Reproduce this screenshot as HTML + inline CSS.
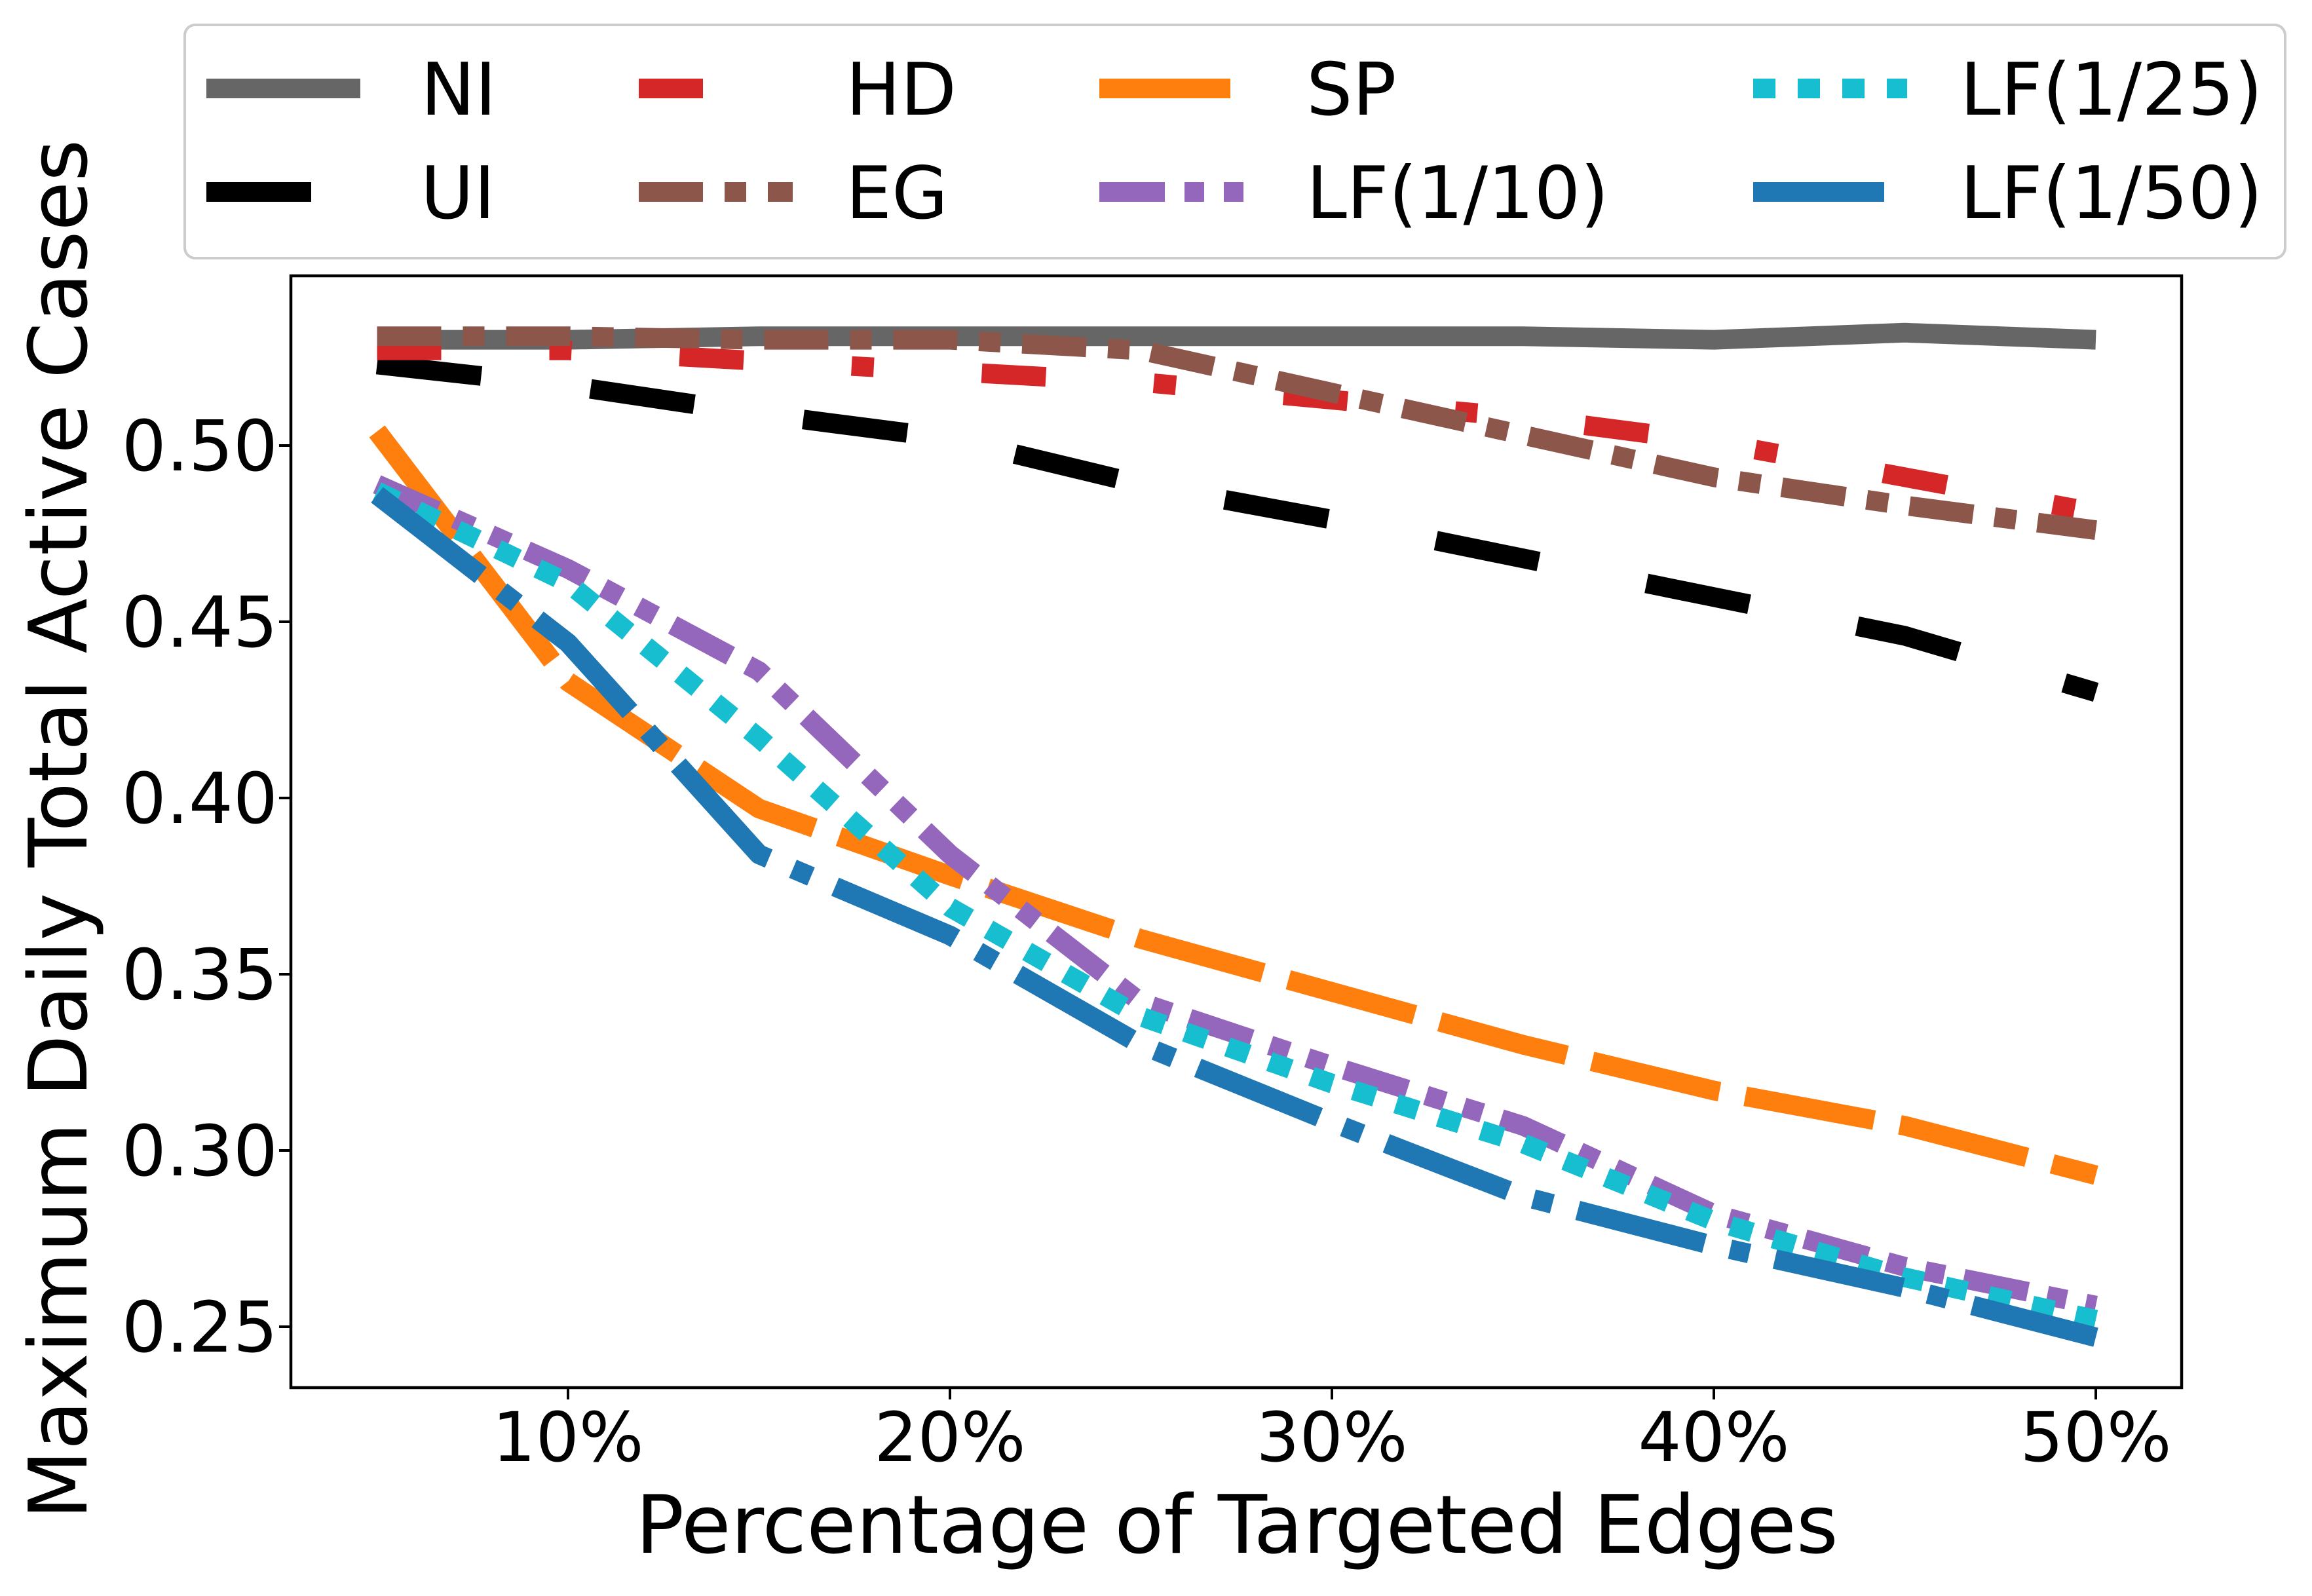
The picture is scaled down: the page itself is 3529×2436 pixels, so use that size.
<!DOCTYPE html>
<html><head><meta charset="utf-8"><style>
html,body{margin:0;padding:0;background:#fff;}
svg{display:block;font-family:"DejaVu Sans","Liberation Sans",sans-serif;}
</style></head><body>
<svg id="chart" width="3529" height="2436" viewBox="0 0 3529 2436" xmlns="http://www.w3.org/2000/svg">
<rect x="0" y="0" width="3529" height="2436" fill="#fff"/>
<g id="plot"></g>
<rect x="444" y="421" width="2886" height="1697" fill="none" stroke="#000" stroke-width="4.5"/>
<g id="ticks"></g>
<text x="1888" y="2370" font-size="123" text-anchor="middle">Percentage of Targeted Edges</text>
<text transform="translate(132,1266) rotate(-90)" font-size="123" text-anchor="middle">Maximum Daily Total Active Cases</text>
<g id="legend">
<rect x="282" y="38" width="3206" height="356" rx="16" fill="#fff" stroke="#ccc" stroke-width="4"/>
</g>
</svg>
<script>
const categories = [5,10,15,20,25,30,35,40,45,50];
const seriesNames = ["NI","UI","HD","EG","SP","LF(1/10)","LF(1/25)","LF(1/50)"];
const valsNI = [0.530,0.530,0.531,0.531,0.531,0.531,0.531,0.530,0.532,0.530];
const valsUI = [0.523,0.517,0.509,0.502,0.489,0.479,0.468,0.457,0.446,0.430];
const valsHD = [0.527,0.527,0.524,0.521,0.518,0.513,0.508,0.501,0.491,0.481];
const valsEG = [0.531,0.531,0.530,0.530,0.527,0.515,0.503,0.491,0.483,0.476];
const valsSP = [0.504,0.433,0.397,0.378,0.360,0.345,0.330,0.317,0.307,0.293];
const valsLF10 = [0.489,0.465,0.436,0.384,0.342,0.324,0.307,0.282,0.267,0.256];
const valsLF25 = [0.487,0.461,0.417,0.369,0.338,0.319,0.302,0.280,0.264,0.252];
const valsLF50 = [0.486,0.444,0.384,0.361,0.330,0.308,0.287,0.273,0.261,0.247];
const xTicks = [10,20,30,40,50];
const xTickLabels = ["10%","20%","30%","40%","50%"];
const yTicks = [0.25,0.30,0.35,0.40,0.45,0.50];
const yTickLabels = ["0.25","0.30","0.35","0.40","0.45","0.50"];

const NS="http://www.w3.org/2000/svg";
function xs(p){return 867+(p-10)*58.3;}
function ys(v){return 680+(0.50-v)*5380;}
const styles=[
 {vals:valsNI,color:"#666666",dash:"none",key:"ni"},
 {vals:valsUI,color:"#000000",dash:"160 168",key:"ui"},
 {vals:valsHD,color:"#d62728",dash:"98 165 34 165",key:"hd"},
 {vals:valsEG,color:"#8c564b",dash:"98 33 33 33",key:"eg"},
 {vals:valsSP,color:"#ff7f0e",dash:"200 40",key:"sp"},
 {vals:valsLF10,color:"#9467bd",dash:"100 30 30 30 30 30",key:"lf10"},
 {vals:valsLF25,color:"#17becf",dash:"34 34",key:"lf25"},
 {vals:valsLF50,color:"#1f77b4",dash:"200 40 30 40",key:"lf50"}
];
const plot=document.getElementById("plot");
styles.forEach((s,i)=>{
  const p=document.createElementNS(NS,"path");
  let d="";
  categories.forEach((c,j)=>{d+=(j?"L":"M")+xs(c).toFixed(1)+" "+ys(s.vals[j]).toFixed(1);});
  p.setAttribute("d",d);
  p.setAttribute("fill","none");
  p.setAttribute("stroke",s.color);
  p.setAttribute("stroke-width","30");
  p.setAttribute("stroke-linejoin","round");
  if(s.dash!=="none")p.setAttribute("stroke-dasharray",s.dash);
  
  
  plot.appendChild(p);
});
const ticks=document.getElementById("ticks");
xTicks.forEach((t,i)=>{
  const l=document.createElementNS(NS,"line");
  l.setAttribute("x1",xs(t));l.setAttribute("x2",xs(t));
  l.setAttribute("y1",2118);l.setAttribute("y2",2136);
  l.setAttribute("stroke","#000");l.setAttribute("stroke-width","4");
  
  
  ticks.appendChild(l);
  const tx=document.createElementNS(NS,"text");
  tx.setAttribute("x",xs(t));tx.setAttribute("y",2230);
  tx.setAttribute("font-size","104");tx.setAttribute("text-anchor","middle");
  tx.textContent=xTickLabels[i];
  
  
  ticks.appendChild(tx);
});
yTicks.forEach((t,i)=>{
  const l=document.createElementNS(NS,"line");
  l.setAttribute("x1",426);l.setAttribute("x2",444);
  l.setAttribute("y1",ys(t));l.setAttribute("y2",ys(t));
  l.setAttribute("stroke","#000");l.setAttribute("stroke-width","4");
  
  
  ticks.appendChild(l);
  const tx=document.createElementNS(NS,"text");
  tx.setAttribute("x",424);tx.setAttribute("y",ys(t)+38);
  tx.setAttribute("font-size","107");tx.setAttribute("text-anchor","end");
  tx.textContent=yTickLabels[i];
  
  
  ticks.appendChild(tx);
});
const legend=document.getElementById("legend");
const legPos=[[315,642,135],[315,642,293],[975,1291,135],[975,1291,293],[1678,1994,135],[1678,1994,293],[2676,2992,135],[2676,2992,293]];
styles.forEach((s,i)=>{
  const [lx,tx0,cy]=legPos[i];
  const l=document.createElementNS(NS,"line");
  l.setAttribute("x1",lx);l.setAttribute("x2",lx+235);
  l.setAttribute("y1",cy);l.setAttribute("y2",cy);
  l.setAttribute("stroke",s.color);l.setAttribute("stroke-width","30");
  if(s.dash!=="none")l.setAttribute("stroke-dasharray",s.dash);
  
  
  legend.appendChild(l);
  const t=document.createElementNS(NS,"text");
  t.setAttribute("x",tx0);t.setAttribute("y",cy+40);
  t.setAttribute("font-size","111");
  t.textContent=seriesNames[i];
  
  
  legend.appendChild(t);
});
</script>
</body></html>
